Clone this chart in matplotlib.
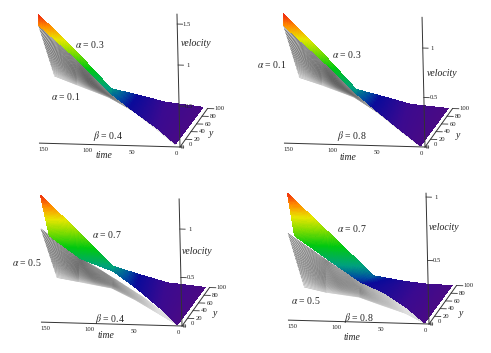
import numpy as np
import matplotlib
matplotlib.use("Agg")
import matplotlib.pyplot as plt
from matplotlib.colors import LinearSegmentedColormap
from mpl_toolkits.mplot3d import proj3d

W, H = 491, 353
plt.rcParams['font.family'] = ['Liberation Serif', 'DejaVu Serif']
plt.rcParams['mathtext.fontset'] = 'stix'

# values, one row per panel
alpha_top = ["0.3", "0.3", "0.7", "0.7"]
alpha_low = ["0.1", "0.1", "0.5", "0.5"]
beta = ["0.4", "0.8", "0.4", "0.8"]
v_ticks = [[0.5, 1, 1.5], [0.5, 1], [0.5, 1], [0.5, 1]]
v_tick_labels = [["0.5", "1", "1.5"], ["0.5", "1"], ["0.5", "1"], ["0.5", "1"]]
v_top = [1.62, 1.31, 1.31, 1.03]
time_ticks = [150, 100, 50, 0]
y_ticks = [20, 40, 60, 80, 100]

# rainbow surface, upper edge
col_up_t = [[156, 115, 76, 55, 37, 5], [156, 115, 76, 55, 37, 5],
            [156, 115, 76, 55, 37, 5], [156, 115, 61, 40, 20, 5]]
col_up_y = [[0, 0, 0, 35, 70, 100], [0, 0, 0, 35, 70, 100],
            [0, 0, 0, 35, 70, 100], [0, 0, 0, 40, 70, 100]]
col_up_v = [[1.57, 1.14, 0.69, 0.447, 0.206, 0.014],
            [1.307, 0.943, 0.564, 0.355, 0.149, 0.0],
            [1.31, 0.952, 0.596, 0.37, 0.158, 0.0],
            [1.0, 0.729, 0.368, 0.208, 0.095, 0.0]]
# rainbow surface, lower edge
col_low_t = [[156, 115, 76, 50, 25, 5], [156, 115, 76, 50, 25, 5],
             [147, 112, 76, 50, 25, 5], [149, 112, 76, 50, 25, 5]]
col_low_v = [[1.44, 1.05, 0.626, 0.41, 0.22, 0.035],
             [1.19, 0.861, 0.52, 0.326, 0.149, 0.01],
             [0.894, 0.664, 0.545, 0.375, 0.185, 0.012],
             [0.667, 0.487, 0.316, 0.238, 0.126, 0.007]]
# dotted grey surface
grey_up_t = [156, 115, 76, 44, 22, 5]
grey_up_v = [[1.44, 1.05, 0.63, 0.37, 0.18, 0.03],
             [1.19, 0.861, 0.52, 0.287, 0.13, 0.01],
             [0.959, 0.688, 0.476, 0.291, 0.144, 0.012],
             [0.682, 0.487, 0.316, 0.218, 0.1, 0.007]]
grey_low_t = [155, 137, 97, 65, 32, 5]
grey_low_y = [49, 70, 60, 40, 20, 0]
grey_low_v = [[0.59, 0.39, 0.29, 0.24, 0.12, 0.03],
              [0.473, 0.321, 0.243, 0.179, 0.068, 0.01],
              [0.267, 0.144, 0.127, 0.096, 0.038, 0.012],
              [0.113, 0.011, 0.011, 0.013, 0.016, 0.007]]

# where things sit in the picture (px from top left)
origin = [(180, 147), (425, 147), (182, 326), (429, 324)]
v_scale = [82, 99, 97, 127]
text_alpha_top = [(90, 44), (347, 54), (107, 235), (352, 229)]
text_alpha_low = [(66, 96), (272, 65), (27, 263), (306, 300)]
text_beta = [(108, 136), (352, 136), (110, 319), (359, 318)]
text_vel = [(196, 43), (442, 73), (197, 251), (444, 227)]
text_time = [(104, 156), (348, 158), (106, 335), (352, 337)]
text_y = [(211, 134), (458, 136), (215, 314), (461, 313)]

cmap = LinearSegmentedColormap.from_list("rb", [
    (0, "#4a0a84"), (0.14, "#3a0a90"), (0.3, "#0a0a9a"), (0.36, "#004fa0"), (0.45, "#00a080"),
    (0.6, "#00c810"), (0.72, "#80dc00"), (0.82, "#e6e600"), (0.92, "#ff8c00"),
    (1, "#f03010")])
grey_map = LinearSegmentedColormap.from_list("gr", ["#e0e0e0", "#999999", "#111111"])


def refine(vals, n):
    return np.interp(np.linspace(0, len(vals) - 1, n), np.arange(len(vals)), vals)


def sheet(t0, y0, v0, t1, y1, v1, n, m):
    # fine mesh between two read edges, just so the fill can be shaded
    s = np.linspace(0, 1, m)[:, None]
    a = [refine(e, n) for e in (t0, y0, v0)]
    b = [refine(e, n) for e in (t1, y1, v1)]
    return [a[k] + (b[k] - a[k]) * s for k in range(3)]


def place(ax, ox, oy, s):
    side = 4.0
    fw, fh = W / 100, H / 100
    ax.set_position([0, 0, side / fw, side / fh])
    ax.apply_aspect()

    def disp(x, y, z):
        a, b, _ = proj3d.proj_transform(x, y, z, ax.get_proj())
        return ax.transData.transform((a, b))
    p0 = disp(0, 0, 0)
    p1 = disp(0, 0, 1)
    m = np.hypot(*(p1 - p0))
    new = side * s / m
    fx = p0[0] / (side * 100)
    fy = p0[1] / (side * 100)
    left = ox / 100 - fx * new
    bottom = (H - oy) / 100 - fy * new
    ax.set_position([left / fw, bottom / fh, new / fw, new / fh])


def tick_text(ax, x, y, z, s):
    # plain 2D text at the projected spot of a 3D point
    a, b, _ = proj3d.proj_transform(x, y, z, ax.get_proj())
    ax.text2D(a, b, s, transform=ax.transData, fontsize=4.8, ha='center', va='center',
              color="#222222", zorder=5)


fig = plt.figure(figsize=(W / 100, H / 100), dpi=100)
for i in range(4):
    ax = fig.add_axes([0, 0, 0.5, 0.5], projection='3d', computed_zorder=False,
                      proj_type='ortho')
    ax.patch.set_alpha(0)
    ax.set_axis_off()
    ax.set_xticks([])
    ax.set_yticks([])
    ax.set_zticks([])
    ax.set_xlim(160, 0)
    ax.set_ylim(0, 100)
    ax.set_zlim(0, v_top[i])
    ax.view_init(elev=15, azim=-79, roll=1.3)
    ax.set_box_aspect((145, 149, v_scale[i] * v_top[i] / 0.965))
    place(ax, origin[i][0], origin[i][1], v_scale[i])

    T, Y, V = sheet(grey_up_t, [0] * 6, grey_up_v[i],
                    grey_low_t, grey_low_y, grey_low_v[i], 170, 40)
    across = np.linspace(0, 1, 40)[:, None] * np.ones_like(T)
    dark = np.clip((T - 30) / 85, 0, 1) * (1 - 0.6 * across ** 4)
    ax.scatter(T.ravel(), Y.ravel(), V.ravel(), s=0.3, c=grey_map(dark.ravel()), linewidths=0,
               depthshade=False, zorder=2)

    T, Y, V = sheet(col_low_t[i], [0] * 6, col_low_v[i],
                    col_up_t[i], col_up_y[i], col_up_v[i], 120, 30)
    ax.plot_surface(T, Y, V, facecolors=cmap(V / max(col_up_v[i])), rstride=1, cstride=1,
                    linewidth=0, antialiased=False, shade=False, zorder=3)

    # axes drawn by hand, the picture has no box
    ax.plot([158, -4], [0, 0], [0, 0], color="#333333", lw=0.7, zorder=4)
    ax.plot([0, 0], [0, 100], [0, 0], color="#333333", lw=0.7, zorder=4)
    ax.plot([0, 0], [0, 0], [0, v_top[i]], color="#333333", lw=0.7, zorder=4)
    for t in time_ticks:
        tick_text(ax, t + 4, 0, -6.5 / v_scale[i], str(t))
    for v, lab in zip(v_ticks[i], v_tick_labels[i]):
        ax.plot([0, -6], [0, 0], [v, v], color="#333333", lw=0.6, zorder=4)
        tick_text(ax, -11, 0, v, lab)
    for yv in y_ticks:
        ax.plot([0, -7], [yv, yv], [0, 0], color="#333333", lw=0.6, zorder=4)
        tick_text(ax, -13, yv, 0, str(yv))
    tick_text(ax, -3, 0, 0, "0")
    tick_text(ax, -9, 8, 0, "0")

    labels = [(text_alpha_top[i], r"$\alpha$ = " + alpha_top[i], 'normal'),
              (text_alpha_low[i], r"$\alpha$ = " + alpha_low[i], 'normal'),
              (text_beta[i], r"$\beta$ = " + beta[i], 'normal'),
              (text_vel[i], "velocity", 'italic'),
              (text_time[i], "time", 'italic'),
              (text_y[i], "y", 'italic')]
    for (x, y), s, style in labels:
        fig.text(x / W, 1 - y / H, s, fontsize=7, style=style, ha='center', va='center',
                 color="#222222")

fig.savefig("out.png", dpi=100)
